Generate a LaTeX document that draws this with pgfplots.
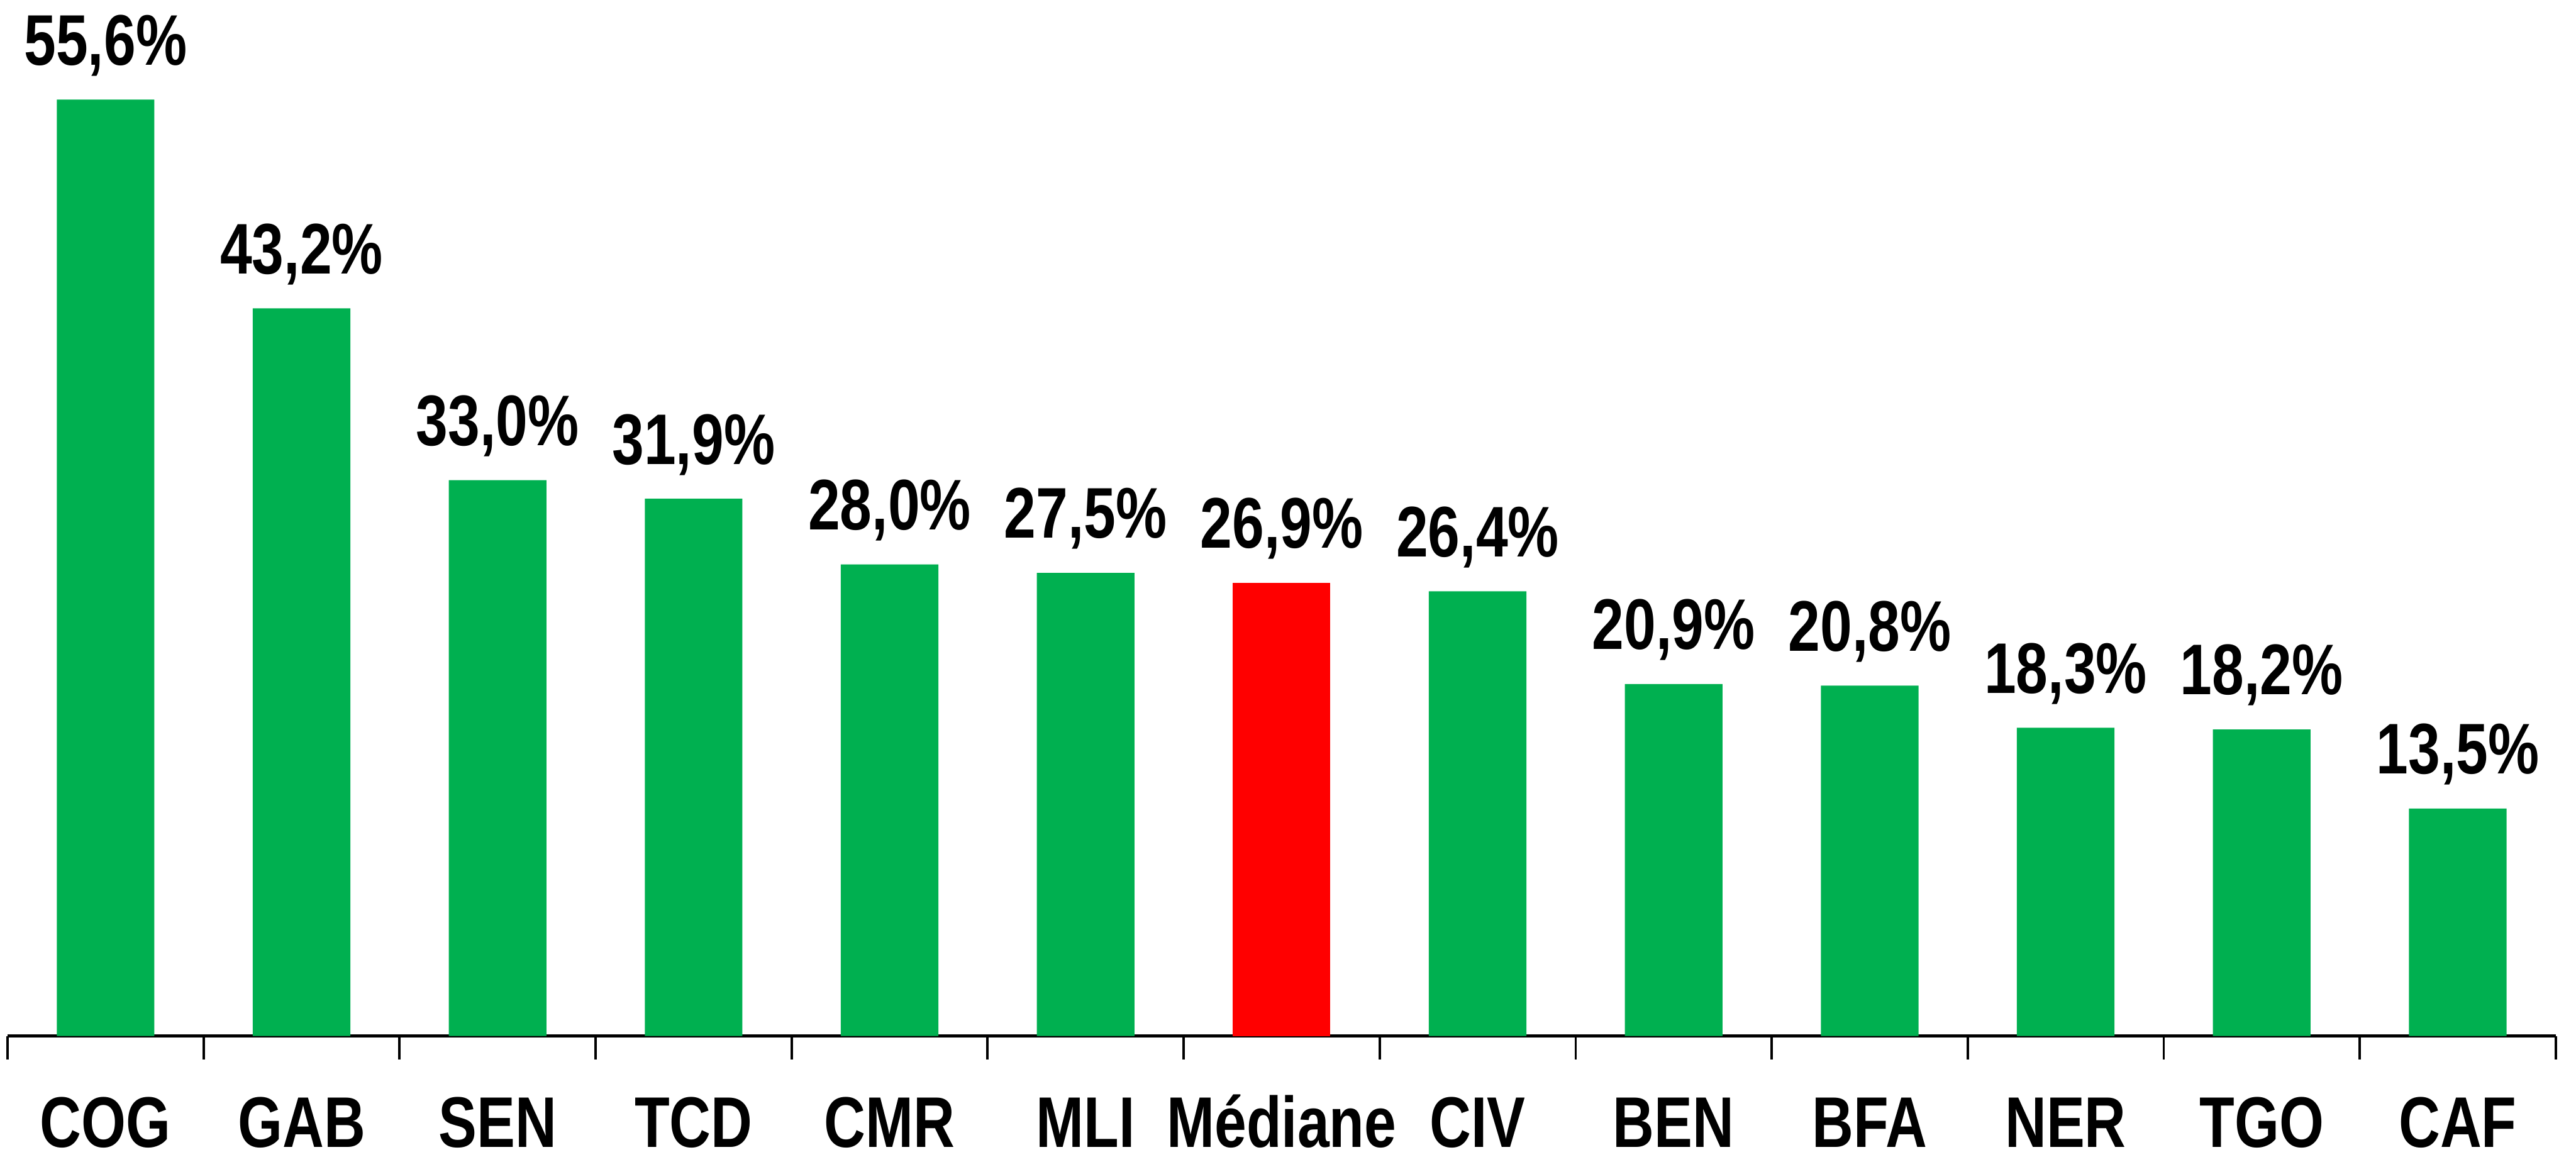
\documentclass[border=0pt]{standalone}
\usepackage{pgfplots}
\pgfplotsset{compat=1.18}
\usepackage{fontspec}
\setmainfont{Liberation Sans}[FakeStretch=0.8]
\definecolor{bargreen}{HTML}{00B050}
\definecolor{barred}{HTML}{FF0000}
\begin{document}
\begin{tikzpicture}
\begin{axis}[
  name=ax,
  scale only axis,
  width=639.6pt, height=253.7pt,
  xmin=-0.5, xmax=12.5, ymin=0, ymax=60,
  axis x line*=bottom, axis y line=none,
  axis line style={line width=0.8pt, black},
  xtick={0,...,12},
  xticklabels={COG,GAB,SEN,TCD,CMR,MLI,Médiane,CIV,BEN,BFA,NER,TGO,CAF},
  major tick length=0pt,
  minor xtick={-0.5,0.5,...,12.5},
  minor tick length=5.9pt,
  tick align=outside,
  minor x tick style={line width=0.6pt, black},
  xticklabel style={font=\fontsize{18}{20}\selectfont\bfseries, anchor=base, yshift=-28.0pt},
  ytick=\empty,
  ybar, bar width=24.5pt, bar shift=0pt,
  clip=false,
  nodes near coords={\pgfmathprintnumber[fixed,fixed zerofill,precision=1,use comma,assume math mode=true]{\pgfplotspointmeta}\%},
  every node near coord/.append style={font=\fontsize{18}{20}\selectfont\bfseries, anchor=base, yshift=8.7pt, text=black},
]
\addplot[fill=bargreen, draw=none] coordinates {
  (0,55.6) (1,43.2) (2,33.0) (3,31.9) (4,28.0) (5,27.5)
  (7,26.4) (8,20.9) (9,20.8) (10,18.3) (11,18.2) (12,13.5)
};
\addplot[fill=barred, draw=none] coordinates {(6,26.9)};
\end{axis}
\pgfresetboundingbox
\path[use as bounding box] ([xshift=-1.9pt,yshift=-31.6pt]ax.south west) rectangle ([xshift=5.1pt,yshift=6.4pt]ax.north east);
\end{tikzpicture}
\end{document}
